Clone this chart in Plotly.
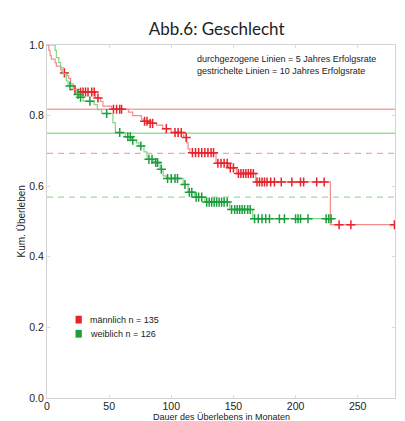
import numpy as np
import plotly.graph_objects as go

# Kaplan-Meier estimates by sex: event times (months) and survival after each step
male_event_t = [1.5, 2.5, 3.5, 6.5, 7.5, 11, 12, 16, 17.5, 19, 21, 22, 25, 39, 43, 45, 52,
                65.5, 69, 76, 78, 82, 88, 93, 100, 110, 112.5, 113.5, 115,
                136, 146, 152.5, 168, 228]
male_event_s = [0.985, 0.97, 0.96, 0.95, 0.94, 0.93, 0.921, 0.913, 0.905, 0.89, 0.882, 0.874, 0.867,
                0.85, 0.84, 0.827, 0.818, 0.81, 0.80, 0.79, 0.784, 0.778, 0.773, 0.763, 0.752,
                0.738, 0.723, 0.706, 0.695, 0.665, 0.652, 0.636, 0.612, 0.491]
male_censor_t = [14, 22.5, 27, 29, 31, 33, 36, 38, 41, 53.5, 56, 58.5, 60, 78.5, 80.5, 83, 85,
                 96, 103, 105.5, 108, 112, 117, 119.5, 122, 124.5, 127, 129.5, 132, 134,
                 137.5, 140, 142.5, 145, 147.5, 150, 154, 156, 158, 160, 162, 164, 166,
                 169, 171, 173, 175, 177, 180, 183, 188.5, 197, 204, 206.5, 217, 223,
                 235, 244.5, 279.5]

female_event_t = [6.5, 7.5, 9.5, 11, 13, 15.5, 17, 21, 24, 26, 29, 38, 40.5, 44, 53, 55,
                  63, 68, 72, 74, 78, 80.5, 86, 91, 93.5, 96, 109.5, 113.5, 118.5,
                  127, 147, 165.5]
female_event_s = [0.985, 0.964, 0.95, 0.936, 0.918, 0.898, 0.884, 0.874, 0.86, 0.852, 0.841,
                  0.831, 0.817, 0.806, 0.78, 0.752, 0.74, 0.73, 0.723, 0.714, 0.697, 0.676,
                  0.667, 0.648, 0.629, 0.622, 0.605, 0.583, 0.569, 0.555, 0.534, 0.508]
female_censor_t = [18.5, 25, 27, 34.5, 48, 58.5, 65, 67, 69, 75.5, 82, 84.5, 87.5, 89, 92,
                   97, 100, 103, 105, 111, 114.5, 116.5, 120, 122, 124.5,
                   128.5, 130.5, 132.5, 134.5, 136.5, 138.5, 140.5, 142.5, 145,
                   148.5, 151, 153, 155, 157, 159, 161.5, 163.5,
                   167, 170, 173, 176, 179, 187, 191, 200, 202, 204, 210, 224.6, 226.7, 228.6]

# 5-year (solid) and 10-year (dashed) success rates
five_year_rates = {"m": 0.818, "w": 0.75}
ten_year_rates = {"m": 0.693, "w": 0.569}

group_labels = {"m": "männlich n = 135", "w": "weiblich n = 126"}
x_max = 280

line_colors = {"m": "#f28b8b", "w": "#86d386"}
mark_colors = {"m": "#e8232b", "w": "#1a9f3c"}
ref_colors = {"m": "#f7a4a4", "w": "#97de97"}


def step_curve(ev_t, ev_s, cens_t):
    end = max(cens_t[-1], ev_t[-1])
    xs = [0] + list(ev_t) + [end]
    ys = [1.0] + list(ev_s) + [ev_s[-1]]
    # survival level at each censoring time
    idx = np.searchsorted(np.array(ev_t), np.array(cens_t), side="right")
    levels = np.concatenate([[1.0], ev_s])
    return xs, ys, levels[idx]


fig = go.Figure()
groups = {
    "m": (male_event_t, male_event_s, male_censor_t),
    "w": (female_event_t, female_event_s, female_censor_t),
}
for key, (et, es, ct) in groups.items():
    xs, ys, cy = step_curve(et, es, ct)
    fig.add_trace(go.Scatter(x=xs, y=ys, mode="lines", line_shape="hv",
                             line=dict(color=line_colors[key], width=1.2),
                             showlegend=False, hoverinfo="skip"))
    fig.add_trace(go.Scatter(x=ct, y=cy, mode="markers",
                             marker=dict(symbol="cross-thin", size=6.5,
                                         line=dict(color=mark_colors[key], width=1.5)),
                             showlegend=False, name=group_labels[key]))

# reference lines for the 5- and 10-year rates
for key in ["m", "w"]:
    fig.add_shape(type="line", xref="x", yref="y", x0=0, x1=x_max,
                  y0=five_year_rates[key], y1=five_year_rates[key],
                  line=dict(color=ref_colors[key], width=1.3), layer="below")
    fig.add_shape(type="line", xref="x", yref="y", x0=0, x1=x_max,
                  y0=ten_year_rates[key], y1=ten_year_rates[key],
                  line=dict(color=ref_colors[key], width=1.3, dash="6px,5px"), layer="below")

# legend swatches and labels
for i, key in enumerate(["m", "w"]):
    yc = 0.222 - i * 0.04
    fig.add_shape(type="rect", xref="paper", yref="paper",
                  x0=0.082, x1=0.100, y0=yc - 0.011, y1=yc + 0.011,
                  fillcolor=mark_colors[key], line=dict(width=0))
    fig.add_annotation(x=0.118, y=yc, xref="paper", yref="paper", text=group_labels[key],
                       showarrow=False, xanchor="left", yanchor="middle",
                       font=dict(family="Liberation Sans, Arial", size=9, color="#222"))

fig.add_annotation(x=0.425, y=0.98, xref="paper", yref="paper",
                   text="durchgezogene Linien = 5 Jahres Erfolgsrate<br>gestrichelte Linien = 10 Jahres Erfolgsrate",
                   showarrow=False, xanchor="left", yanchor="top", align="left",
                   font=dict(family="Liberation Sans, Arial", size=9, color="#222"))

# axis titles
fig.add_annotation(x=0.5, y=-0.036, xref="paper", yref="paper",
                   text="Dauer des Überlebens in Monaten", showarrow=False,
                   xanchor="center", yanchor="top", borderpad=0,
                   font=dict(family="Liberation Sans, Arial", size=9, color="#222"))
fig.add_annotation(x=-0.072, y=0.5, xref="paper", yref="paper",
                   text="Kum. Überleben", showarrow=False, textangle=-90,
                   xanchor="center", yanchor="middle",
                   font=dict(family="Liberation Sans, Arial", size=10, color="#222"))

fig.update_layout(
    width=405, height=421,
    margin=dict(l=47, r=10, t=45, b=23),
    paper_bgcolor="white", plot_bgcolor="white",
    title=dict(text="Abb.6: Geschlecht", x=0.535, xanchor="center", y=0.93, yanchor="middle",
               font=dict(family="Lato, Open Sans", size=17, color="#222")),
    showlegend=False,
)
axis_common = dict(showgrid=False, zeroline=False, showline=True, linecolor="#d4d4d4",
                   linewidth=1.2, mirror="allticks", ticks="inside", ticklen=3,
                   tickcolor="#dcdcdc",
                   tickfont=dict(family="Liberation Sans, Arial", size=10.5, color="#222"))
fig.update_xaxes(range=[0, x_max], tickvals=[0, 50, 100, 150, 200, 250],
                 ticklabelstandoff=-2, **axis_common)
fig.update_yaxes(range=[0, 1.0], tickvals=[0, 0.2, 0.4, 0.6, 0.8, 1.0],
                 tickformat=".1f", **axis_common)

fig.write_html("out.html")
